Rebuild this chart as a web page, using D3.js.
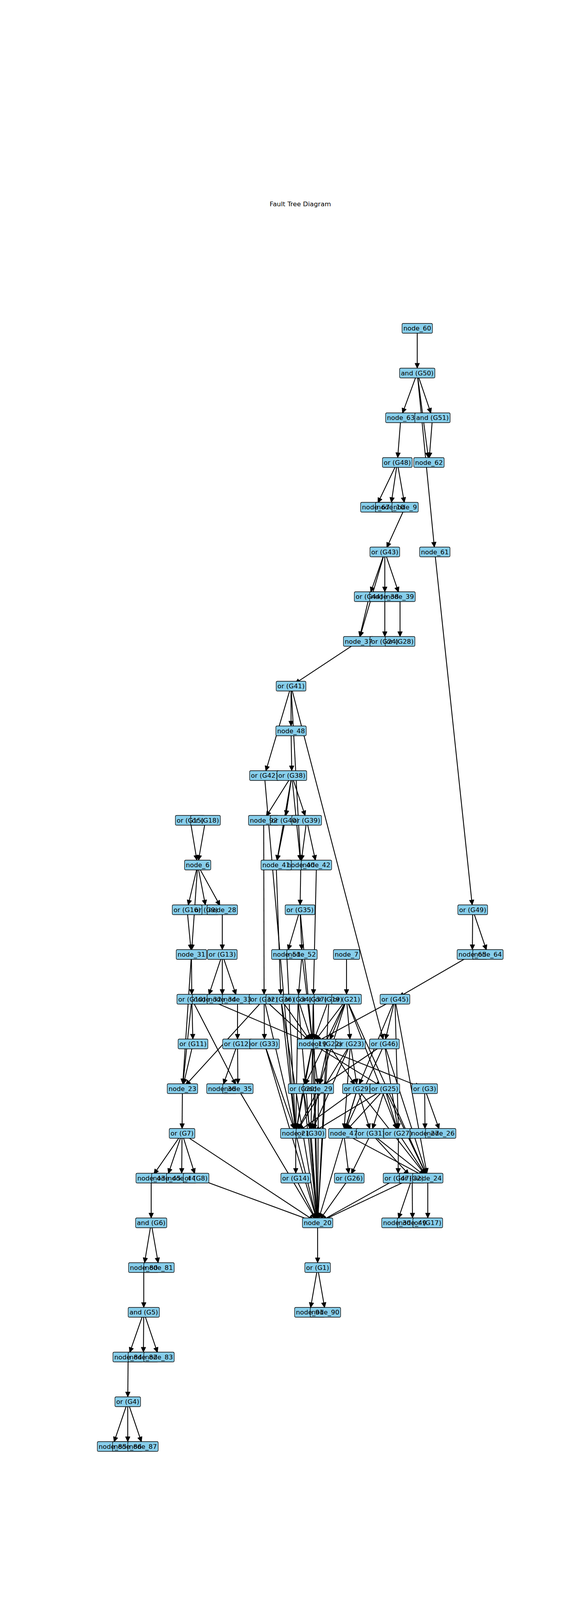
<!DOCTYPE html>
<html>
<head>
<meta charset="utf-8">
<script src="https://cdn.jsdelivr.net/npm/d3@7"></script>
<style>
body{margin:0;background:#fff}
text{font-family:"DejaVu Sans",sans-serif}
</style>
</head>
<body>
<svg id="chart" width="1500" height="4500"></svg>
<script>
var title = "Fault Tree Diagram"
var andGates = ["G50", "G51", "G6", "G5"]

// [id, rank (row of the layout), x in layout units]
var nodes = [
  ["node_60",0,1068],
  ["G50",1,1068],
  ["node_63",2,1026],["G51",2,1107],
  ["G48",3,1017],["node_62",3,1098],
  ["node_67",4,962],["node_10",4,1000],["node_9",4,1037],
  ["G43",5,985],["node_61",5,1113],
  ["G44",6,945],["node_38",6,985],["node_39",6,1024],
  ["node_37",7,918],["G24",7,985],["G28",7,1024],
  ["G41",8,745],
  ["node_48",9,745],
  ["G42",10,677],["G38",10,747],
  ["G15",11,487],["G18",11,526],["node_92",11,675],["G40",11,730],["G39",11,785],
  ["node_6",12,506],["node_40",12,770],["node_41",12,707],["node_42",12,810],
  ["G9",13,528],["G16",13,479],["node_28",13,569],["G35",13,768],["G49",13,1210],
  ["node_31",14,490],["G13",14,569],["node_51",14,734],["node_52",14,773],["node_7",14,887],["node_65",14,1209],["node_64",14,1249],
  ["G10",15,491],["node_32",15,531],["node_34",15,569],["node_33",15,608],["G32",15,676],["G36",15,719],["G34",15,763],["G37",15,802],["G19",15,842],["G21",15,887],["G45",15,1011],
  ["G11",16,494],["G12",16,608],["G33",16,677],["node_19",16,800],["G22",16,840],["G23",16,897],["G46",16,984],
  ["node_23",17,467],["node_36",17,568],["node_35",17,609],["G20",17,776],["node_29",17,815],["G29",17,915],["G25",17,985],["G3",17,1087],
  ["G7",18,466],["node_21",18,757],["G30",18,796],["node_47",18,880],["G31",18,950],["G27",18,1020],["node_27",18,1088],["node_26",18,1128],
  ["node_43",19,387],["node_45",19,427],["node_44",19,465],["G8",19,502],["G14",19,757],["G26",19,894],["G47",19,1019],["G2",19,1055],["node_24",19,1095],
  ["G6",20,387],["node_20",20,813],["node_30",20,1016],["node_49",20,1056],["G17",20,1095],
  ["node_80",21,368],["node_81",21,407],["G1",21,813],
  ["G5",22,368],["node_91",22,793],["node_90",22,833],
  ["node_84",23,328],["node_82",23,367],["node_83",23,407],
  ["G4",24,327],
  ["node_85",25,288],["node_86",25,327],["node_87",25,366]
]

var edges = [
  ["node_60","G50"],
  ["G50","node_63"],["G50","G51"],["G50","node_62"],["G50","node_61"],
  ["G51","node_62"],
  ["node_63","G48"],
  ["G48","node_67"],["G48","node_10"],["G48","node_9"],
  ["node_9","G43"],
  ["node_61","G49"],
  ["G43","G44"],["G43","node_38"],["G43","node_39"],["G43","node_37"],
  ["G44","node_37"],
  ["node_38","G24"],["node_39","G28"],
  ["node_37","G41"],
  ["G41","node_48"],["G41","G42"],["G41","node_40"],["G41","G46"],
  ["node_48","G38"],
  ["G38","node_92"],["G38","G40"],["G38","G39"],["G38","node_41"],["G38","node_40"],
  ["G40","node_41"],
  ["G39","node_40"],["G39","node_42"],
  ["G42","node_21"],
  ["G15","node_6"],["G18","node_6"],
  ["node_6","G16"],["node_6","G9"],["node_6","node_28"],["node_6","node_31"],
  ["G16","node_31"],
  ["node_28","G13"],
  ["node_31","G10"],["node_31","node_23"],
  ["G13","node_32"],["G13","node_34"],["G13","node_33"],
  ["node_40","G35"],
  ["G35","node_51"],["G35","node_52"],["G35","node_19"],
  ["node_41","G36"],["node_42","G37"],["node_92","G32"],
  ["node_51","node_21"],
  ["node_52","G34"],["node_52","node_19"],
  ["node_7","G21"],
  ["G49","node_65"],["G49","node_64"],
  ["node_65","G45"],
  ["G10","G11"],["G10","node_23"],["G10","node_35"],
  ["node_32","node_19"],
  ["node_33","G12"],
  ["G32","G33"],["G32","node_23"],["G32","node_19"],["G32","node_21"],
  ["G36","node_19"],["G36","node_21"],["G36","node_20"],
  ["G34","node_19"],["G34","node_21"],["G34","node_20"],
  ["G37","node_19"],["G37","node_20"],["G37","G30"],
  ["G19","node_19"],["G19","node_20"],
  ["G21","G22"],["G21","G23"],["G21","node_19"],["G21","node_29"],["G21","G20"],["G21","G27"],["G21","node_24"],
  ["G45","node_19"],["G45","G46"],["G45","G29"],["G45","G27"],["G45","node_24"],
  ["G11","node_23"],
  ["G12","node_36"],["G12","node_35"],
  ["G33","node_21"],["G33","node_20"],
  ["node_19","G20"],["node_19","node_29"],["node_19","G25"],["node_19","G3"],["node_19","node_20"],["node_19","node_21"],
  ["G22","node_29"],["G22","G29"],["G22","node_20"],
  ["G23","G29"],["G23","G30"],["G23","node_47"],["G23","node_21"],
  ["G46","node_29"],["G46","node_47"],["G46","G27"],["G46","node_24"],
  ["node_23","G7"],
  ["node_35","node_20"],
  ["G20","node_21"],["G20","G30"],["G20","node_20"],
  ["node_29","node_21"],["node_29","G30"],["node_29","node_20"],
  ["G29","node_47"],["G29","G31"],["G29","node_21"],["G29","node_24"],["G29","node_20"],
  ["G25","node_47"],["G25","G31"],["G25","G27"],["G25","node_24"],["G25","G30"],
  ["G3","node_27"],["G3","node_26"],
  ["G7","node_43"],["G7","node_45"],["G7","node_44"],["G7","G8"],["G7","node_20"],
  ["node_21","G14"],["node_21","node_20"],
  ["G30","node_20"],
  ["node_47","node_24"],["node_47","G26"],
  ["G31","G26"],["G31","G2"],["G31","node_24"],
  ["G27","G47"],["G27","node_24"],
  ["node_43","G6"],
  ["G8","node_20"],["G14","node_20"],["G26","node_20"],["G47","node_20"],
  ["G2","node_20"],["G2","node_30"],["G2","node_49"],
  ["node_24","G17"],
  ["G6","node_80"],["G6","node_81"],
  ["node_20","G1"],
  ["node_80","G5"],
  ["G1","node_91"],["G1","node_90"],
  ["G5","node_84"],["G5","node_82"],["G5","node_83"],
  ["node_84","G4"],
  ["G4","node_85"],["G4","node_86"],["G4","node_87"]
]

var W = 1500, H = 4500
var fontSize = 16.67
var pad = 0.2 * fontSize
var shrink = 12, headLen = 13, headHalf = 6

var x = d3.scaleLinear().domain([0, 1500]).range([0, W])
var y = d3.scaleLinear().domain([0, 25]).range([840.5, 3703])

var svg = d3.select("#chart")
svg.append("rect").attr("width", W).attr("height", H).attr("fill", "#fff")

svg.append("text")
    .attr("x", 768.75).attr("y", 528)
    .attr("text-anchor", "middle")
    .attr("font-size", fontSize)
    .text(title)

function label(id){
    if(id.charAt(0) == "G")
        return (andGates.indexOf(id) >= 0 ? "and" : "or") + " (" + id + ")"
    return id
}

var pos = {}
nodes.forEach(function(n){ pos[n[0]] = {x: x(n[2]), y: y(n[1])} })

var gEdges = svg.append("g")
edges.forEach(function(e){
    var s = pos[e[0]], t = pos[e[1]]
    var dx = t.x - s.x, dy = t.y - s.y
    var len = Math.sqrt(dx*dx + dy*dy)
    var ux = dx/len, uy = dy/len
    var x0 = s.x + ux*shrink, y0 = s.y + uy*shrink
    var tx = t.x - ux*shrink, ty = t.y - uy*shrink
    var bx = tx - ux*headLen, by = ty - uy*headLen
    gEdges.append("line")
        .attr("x1", x0).attr("y1", y0)
        .attr("x2", bx).attr("y2", by)
        .attr("stroke", "#000").attr("stroke-width", 2.2)
    gEdges.append("polygon")
        .attr("points", [[tx, ty], [bx - uy*headHalf, by + ux*headHalf], [bx + uy*headHalf, by - ux*headHalf]].map(function(p){ return p.join(",") }).join(" "))
        .attr("fill", "#000").attr("stroke", "#000").attr("stroke-width", 1)
})

// boxes first, then every label on top (lower labels show through, as in the source)
var gBoxes = svg.append("g")
var gLabels = svg.append("g")
nodes.forEach(function(n){
    var p = pos[n[0]]
    var rect = gBoxes.append("rect")
    var txt = gLabels.append("text")
        .attr("x", p.x).attr("y", p.y + 5.8)
        .attr("text-anchor", "middle")
        .attr("font-size", fontSize)
        .attr("fill", "#000")
        .text(label(n[0]))
    var w = txt.node().getComputedTextLength() + 2*pad
    var h = 25
    rect.attr("x", p.x - w/2).attr("y", p.y - h/2)
        .attr("width", w).attr("height", h)
        .attr("rx", pad).attr("ry", pad)
        .attr("fill", "skyblue")
        .attr("stroke", "#000").attr("stroke-width", 1.3)
})
</script>
</body>
</html>
